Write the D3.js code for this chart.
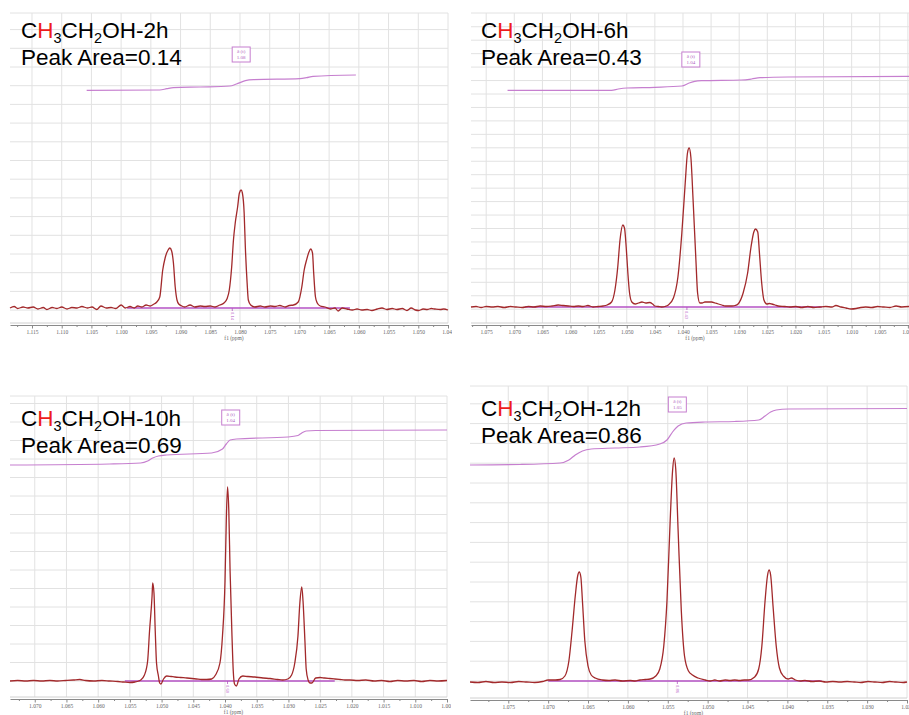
<!DOCTYPE html>
<html>
<head>
<meta charset="utf-8">
<script src="https://cdn.jsdelivr.net/npm/d3@7"></script>
<style>
  body { margin: 0; background: #fff; }
  svg { display: block; }
  .title { font-family: "Liberation Sans", Arial, sans-serif; font-size: 22.5px; fill: #000; }
  .tick text { font-family: "Liberation Serif", "DejaVu Serif", serif; font-size: 5.5px; fill: #666; }
</style>
</head>
<body>
<svg id="chart" width="909" height="715"></svg>
<script>
// ---- Sample metadata ----
const sampleHours = ["2h", "6h", "10h", "12h"];
const peakAreas = [0.14, 0.43, 0.69, 0.86];
const multipletShifts = ["1.08", "1.04", "1.04", "1.05"];
const multipletType = "δ (t)";

// ---- Axis tick labels (ppm) ----
const ticks2h = [1.115, 1.110, 1.105, 1.100, 1.095, 1.090, 1.085, 1.080, 1.075, 1.070, 1.065, 1.060, 1.055, 1.050, 1.045];
const ticks6h = [1.075, 1.070, 1.065, 1.060, 1.055, 1.050, 1.045, 1.040, 1.035, 1.030, 1.025, 1.020, 1.015, 1.010, 1.005, 1.000];
const ticks10h = [1.070, 1.065, 1.060, 1.055, 1.050, 1.045, 1.040, 1.035, 1.030, 1.025, 1.020, 1.015, 1.010, 1.005];
const ticks12h = [1.075, 1.070, 1.065, 1.060, 1.055, 1.050, 1.045, 1.040, 1.035, 1.030, 1.025];

// ---- Spectra: [chemical shift (ppm), intensity (a.u.)] ----
const spectrum2h = [
  [1.1187,0],[1.1180,1.5],[1.1174,-0.5],[1.1165,1],[1.1157,0],[1.1148,1],[1.1140,-1],[1.1131,0.5],[1.1125,-1.5],
  [1.1116,0.5],[1.1108,-0.5],[1.1100,1],[1.1091,-1],[1.1083,0.5],[1.1074,0],[1.1066,1.5],[1.1057,0],[1.1049,1],
  [1.1041,-1.5],[1.1034,2],[1.1025,0],[1.1017,0.5],[1.1009,-0.5],[1.1000,3],[1.0993,0],[1.0985,1.5],[1.0978,0],
  [1.0972,2],[1.0965,1],[1.0958,3],[1.0951,2],[1.0946,3.5],
  [1.0940,6],[1.0935,11],[1.0930,38],[1.0926,50],[1.0921,58],[1.0918,60],[1.0915,57],[1.0912,45],[1.0909,21],
  [1.0906,8],[1.0903,4],[1.0898,2],
  [1.0893,1],[1.0884,3],[1.0876,1],[1.0867,2],[1.0859,1.5],[1.0850,2],[1.0842,1],[1.0834,3],[1.0827,5],[1.0822,9],[1.0818,18],
  [1.0814,41],[1.0811,68],[1.0808,85],[1.0804,101],[1.0801,115],[1.0798,118],[1.0796,115],[1.0793,95],[1.0791,61],
  [1.0788,25],[1.0786,8],[1.0782,3],[1.0775,1],
  [1.0766,2],[1.0758,1],[1.0749,2],[1.0741,1.5],[1.0733,2.5],[1.0724,1],[1.0717,2.5],[1.0710,3],
  [1.0702,6],[1.0696,21],[1.0692,38],[1.0688,48],[1.0684,56],[1.0681,59],[1.0678,55],[1.0676,35],[1.0673,11],
  [1.0670,5],[1.0665,2],
  [1.0657,1],[1.0648,-1],[1.0640,0],[1.0635,-3],[1.0628,0],[1.0620,-1],[1.0611,-2],[1.0603,-1],[1.0595,-2],
  [1.0586,-1.5],[1.0578,-2.5],[1.0569,-1],[1.0561,0],[1.0553,-1.5],[1.0544,-0.5],[1.0536,-1.5],[1.0527,-0.5],
  [1.0519,-2.5],[1.0512,0],[1.0505,-2],[1.0499,-2.5],[1.0492,-1],[1.0485,-1.5],[1.0478,-0.5],[1.0472,-1],
  [1.0463,-1.5],[1.0457,-1],[1.0450,-2]
];
const spectrum6h = [
  [1.0777,0],[1.0768,0.5],[1.0759,-0.5],[1.0750,0.5],[1.0739,0],[1.0729,0.5],[1.0718,-0.5],[1.0707,0.5],[1.0697,0],
  [1.0686,-0.5],[1.0675,0.5],[1.0665,0],[1.0654,1],[1.0643,0.5],[1.0633,1],[1.0622,2],[1.0613,1.5],[1.0604,1],
  [1.0595,0.5],[1.0586,1],[1.0578,0.5],[1.0569,1.5],[1.0560,0],[1.0551,0.5],[1.0542,1],[1.0535,2],
  [1.0527,5],[1.0521,17],[1.0516,40],[1.0512,67],[1.0507,82],[1.0504,79],[1.0501,60],[1.0498,34],[1.0495,14],
  [1.0491,5],[1.0485,3],[1.0479,4],[1.0473,5],[1.0466,4],[1.0459,4.5],[1.0454,3],[1.0450,1],[1.0444,0.5],[1.0438,0],[1.0432,0.5],
  [1.0426,2],[1.0417,9],[1.0409,30],[1.0402,74],[1.0396,124],[1.0392,154],[1.0389,159],[1.0386,150],[1.0382,107],
  [1.0377,47],[1.0374,14],[1.0370,4],[1.0366,4],[1.0361,5],[1.0355,5],[1.0349,5],[1.0343,4],[1.0337,3],[1.0331,2],
  [1.0325,1],[1.0319,1],[1.0313,1],
  [1.0307,1.5],[1.0302,3],[1.0293,14],[1.0285,34],[1.0279,60],[1.0274,75],[1.0271,78],[1.0267,75],[1.0264,54],
  [1.0260,24],[1.0256,7],[1.0251,3],[1.0246,3.5],[1.0242,3],[1.0236,2],[1.0231,1],
  [1.0219,0.5],[1.0210,0],[1.0199,0.5],[1.0189,-0.5],[1.0178,0.5],[1.0167,-0.5],[1.0157,0],[1.0146,0.5],[1.0135,0],
  [1.0128,1.5],[1.0119,0],[1.0110,-1],[1.0101,-2],[1.0092,-1.5],[1.0084,-0.5],[1.0075,0],[1.0064,-0.5],[1.0054,0.5],
  [1.0043,0],[1.0032,-0.5],[1.0021,1],[1.0011,0],[0.9998,0.5]
];
const spectrum10h = [
  [1.0739,0],[1.0727,0.5],[1.0714,0],[1.0702,0.5],[1.0689,0],[1.0676,0.5],[1.0664,0],[1.0651,0.5],[1.0639,1],
  [1.0629,1.5],[1.0620,0.5],[1.0607,0],[1.0594,0.5],[1.0582,0],[1.0569,-0.5],[1.0560,-1],[1.0550,-1.5],[1.0542,-1],[1.0536,0],
  [1.0533,1],[1.0527,6],[1.0522,20],[1.0519,50],[1.0515,85],[1.0514,98],[1.0512,88],[1.0510,50],[1.0508,18],
  [1.0505,5],[1.0503,-2],[1.0501,-3],[1.0497,2],[1.0492,5],[1.0485,4.5],[1.0479,4],[1.0470,3.5],[1.0460,3],
  [1.0452,2.5],[1.0445,2],[1.0437,1.5],[1.0429,1.5],
  [1.0421,2],[1.0415,6],[1.0408,18],[1.0404,45],[1.0400,100],[1.0398,160],[1.0396,194],[1.0394,170],[1.0392,110],
  [1.0389,45],[1.0387,10],[1.0385,-3],[1.0382,-5],[1.0378,2],[1.0372,5],[1.0364,4.5],[1.0353,4],[1.0340,3],
  [1.0329,2.5],[1.0317,1.5],[1.0309,1],
  [1.0301,2],[1.0295,6],[1.0290,18],[1.0285,45],[1.0282,78],[1.0279,94],[1.0277,80],[1.0274,40],[1.0272,12],
  [1.0269,1],[1.0266,-2],[1.0263,-2],[1.0257,3],[1.0250,3.5],[1.0243,3],[1.0235,2.5],[1.0227,2],[1.0219,1.5],
  [1.0211,1],[1.0203,1],
  [1.0191,0.5],[1.0178,1],[1.0165,0],[1.0153,0.5],[1.0140,-0.5],[1.0128,0.5],[1.0115,0],[1.0102,0.5],[1.0090,-0.5],
  [1.0077,0.5],[1.0064,0],[1.0050,0.5]
];
const spectrum12h = [
  [1.0798,-1],[1.0788,-1.5],[1.0778,-0.5],[1.0768,-1.5],[1.0758,-1],[1.0747,-1.5],[1.0737,-0.5],[1.0727,-1],
  [1.0717,-1.5],[1.0707,-0.5],[1.0700,1],[1.0691,1],
  [1.0685,1.5],[1.0679,5],[1.0674,20],[1.0670,50],[1.0666,85],[1.0663,105],[1.0661,109],[1.0659,104],[1.0657,80],
  [1.0654,40],[1.0650,15],[1.0646,6],[1.0641,3],[1.0632,1],[1.0624,0.5],[1.0616,1],[1.0607,0],[1.0597,0.5],
  [1.0591,0],[1.0585,1],[1.0578,1.5],
  [1.0572,2],[1.0565,5],[1.0560,12],[1.0555,35],[1.0551,80],[1.0547,160],[1.0544,210],[1.0542,223],[1.0540,212],
  [1.0537,150],[1.0533,70],[1.0529,25],[1.0524,10],[1.0519,6],[1.0512,3],[1.0503,1],[1.0497,0],[1.0491,1],
  [1.0485,0],[1.0478,1],[1.0472,0.5],[1.0466,1],[1.0460,0.5],[1.0454,1],
  [1.0449,1],[1.0441,4],[1.0436,12],[1.0432,35],[1.0428,80],[1.0425,105],[1.0423,111],[1.0421,106],[1.0418,75],
  [1.0414,35],[1.0410,13],[1.0405,5],[1.0399,2],[1.0395,3],[1.0390,1],[1.0384,0],
  [1.0378,0.5],[1.0369,-0.5],[1.0360,0],[1.0352,-1],[1.0343,-0.5],[1.0334,-1],[1.0325,-0.5],[1.0316,-1],
  [1.0308,-1.5],[1.0299,-0.5],[1.0290,-1],[1.0281,-1.5],[1.0272,-0.5],[1.0264,-1],[1.0255,-1.5],[1.0250,-1]
];

// ---- Integral traces: [ppm, cumulative level] ----
const integral2h = [
  [1.1058,217.7],[1.0935,218],[1.0923,219.3],[1.0912,220.3],[1.0867,221],[1.0817,222],[1.0806,224],[1.0791,227.3],
  [1.0777,228.3],[1.0699,229.3],[1.0688,230.3],[1.0677,231.7],[1.0605,233]
];
const integral6h = [
  [1.0712,216.7],[1.0527,216.7],[1.0515,218],[1.0500,219],[1.0450,219.7],[1.0402,221],[1.0390,223.7],[1.0379,225.7],
  [1.0367,226.3],[1.0296,227],[1.0278,228],[1.0263,229.3],[1.0213,230],[0.9998,230.7]
];
const integral10h = [
  [1.0739,216],[1.0582,217],[1.0533,218],[1.0522,220],[1.0514,223],[1.0505,225],[1.0492,226],[1.0421,228],
  [1.0404,232],[1.0398,237],[1.0392,241],[1.0382,242],[1.0301,244],[1.0285,245.5],[1.0279,248],[1.0272,250],
  [1.0257,250.5],[1.0050,251]
];
const integral12h = [
  [1.0798,216],[1.0735,216.5],[1.0685,218],[1.0674,221],[1.0666,226],[1.0657,230],[1.0646,232],[1.0616,233],
  [1.0585,234],[1.0560,237],[1.0551,241],[1.0544,249],[1.0537,255],[1.0527,258],[1.0503,259],[1.0466,259.5],
  [1.0436,261],[1.0428,265],[1.0421,269],[1.0414,271],[1.0399,272],[1.0250,272.5]
];

// ---- Integration regions [from, to] (ppm) and the ppm of the integral readout ----
const integrationRanges = [[1.0990, 1.0615], [1.0681, 1.0153], [1.0558, 1.0227], [1.0700, 1.0357]];
const integralMarks = [1.0813, 1.0393, 1.0396, 1.0538];
const multipletCenters = [1.0798, 1.0386, 1.0391, 1.0538];

// ---- Panel layout ----
const layout = [
  { left: 10,  right: 448, top: 13,  axisY: 325, baseY: 308, domain: [1.1187, 1.0450], gridY0: 48.3, gridDy: 18.7, boxTop: 47,  titleX: 21,  titleY: 37.5 },
  { left: 471, right: 909, top: 13,  axisY: 325, baseY: 307, domain: [1.0777, 0.9998], gridY0: 13.3, gridDy: 13.45, boxTop: 52, titleX: 481, titleY: 37.5 },
  { left: 10,  right: 447, top: 396, axisY: 699, baseY: 681, domain: [1.0739, 1.0050], gridY0: 681, gridDy: 18.5, boxTop: 410, titleX: 21,  titleY: 426 },
  { left: 470, right: 907, top: 386, axisY: 700, baseY: 681, domain: [1.0798, 1.0250], gridY0: 681, gridDy: 19.8, boxTop: 397, titleX: 481, titleY: 416 }
];
const spectra = [spectrum2h, spectrum6h, spectrum10h, spectrum12h];
const integrals = [integral2h, integral6h, integral10h, integral12h];
const tickSets = [ticks2h, ticks6h, ticks10h, ticks12h];

const COLOR_SPEC = "#a2292b";
const COLOR_INT = "#c67fcf";
const COLOR_BASE = "#b452c4";
const COLOR_GRID = "#e2e2e2";

const svg = d3.select("#chart");
const fmt = d3.format(".3f");

layout.forEach((p, i) => {
  const g = svg.append("g");
  const x = d3.scaleLinear().domain(p.domain).range([p.left, p.right]);
  const y = d3.scaleLinear().domain([0, 250]).range([p.baseY, p.baseY - 250]);
  const ticks = tickSets[i];
  const gridBottom = p.axisY - 2;

  // clip for the panel
  const clipId = "clip" + i;
  svg.append("clipPath").attr("id", clipId)
    .append("rect").attr("x", p.left - 6).attr("y", p.top - 2)
    .attr("width", p.right - p.left + 10).attr("height", p.axisY - p.top + 24);
  g.attr("clip-path", `url(#${clipId})`);

  // grid
  const gridYs = [p.top];
  for (let gy = p.gridY0; gy > p.top + 2; gy -= p.gridDy) gridYs.push(gy);
  for (let gy = p.gridY0 + p.gridDy; gy < gridBottom - 3; gy += p.gridDy) gridYs.push(gy);
  g.append("g").selectAll("line").data(gridYs).join("line")
    .attr("x1", p.left).attr("x2", p.right)
    .attr("y1", d => d).attr("y2", d => d)
    .attr("stroke", COLOR_GRID).attr("stroke-width", 1);
  g.append("g").selectAll("line").data(ticks).join("line")
    .attr("x1", d => x(d)).attr("x2", d => x(d))
    .attr("y1", p.top).attr("y2", gridBottom)
    .attr("stroke", COLOR_GRID).attr("stroke-width", 1);
  g.append("line").attr("x1", p.left).attr("x2", p.right)
    .attr("y1", gridBottom).attr("y2", gridBottom).attr("stroke", "#d0d0d0");

  // x axis: major ticks with labels, minor ticks in between
  const minor = ticks.map(t => t - 0.0025).filter(t => t < p.domain[0] && t > p.domain[1]);
  const extra = ticks[0] + 0.0025;
  if (extra < p.domain[0]) minor.push(extra);
  const axisMinor = g.append("g").attr("transform", `translate(0,${p.axisY})`)
    .call(d3.axisBottom(x).tickValues(minor).tickSize(2).tickSizeOuter(0).tickFormat(""));
  axisMinor.select(".domain").remove();
  axisMinor.selectAll("line").attr("stroke", "#888");
  const axisMajor = g.append("g").attr("transform", `translate(0,${p.axisY})`)
    .call(d3.axisBottom(x).tickValues(ticks).tickSize(3.5).tickSizeOuter(0).tickPadding(2).tickFormat(fmt));
  axisMajor.select(".domain").attr("stroke", "#8a8a8a").attr("stroke-width", 1);
  axisMajor.selectAll("line").attr("stroke", "#888");

  g.append("text")
    .attr("x", (p.left + p.right) / 2 + 5).attr("y", p.axisY + 15)
    .attr("text-anchor", "middle")
    .style("font-family", "'Liberation Serif', serif").style("font-size", "5.5px").attr("fill", "#666")
    .text("f1 (ppm)");

  // integration region baseline
  const r = integrationRanges[i];
  g.append("line")
    .attr("x1", x(r[0])).attr("x2", x(r[1]))
    .attr("y1", y(0)).attr("y2", y(0))
    .attr("stroke", COLOR_BASE).attr("stroke-width", 1.3);

  // integral readout below baseline
  const mx = x(integralMarks[i]);
  g.append("line").attr("x1", mx).attr("x2", mx).attr("y1", y(0)).attr("y2", y(0) + 3)
    .attr("stroke", COLOR_BASE).attr("stroke-width", 0.8);
  g.append("text")
    .attr("transform", `translate(${mx - 1.5},${y(0) + 4}) rotate(90)`)
    .style("font-family", "'Liberation Serif', serif").style("font-size", "4.5px").attr("fill", COLOR_BASE)
    .text(peakAreas[i].toFixed(2));

  // integral trace
  g.append("path").datum(integrals[i])
    .attr("fill", "none").attr("stroke", COLOR_INT).attr("stroke-width", 1.2)
    .attr("d", d3.line().x(d => x(d[0])).y(d => y(d[1])).curve(d3.curveMonotoneX));

  // spectrum
  g.append("path").datum(spectra[i])
    .attr("fill", "none").attr("stroke", COLOR_SPEC).attr("stroke-width", 1.3)
    .attr("stroke-linejoin", "round")
    .attr("d", d3.line().x(d => x(d[0])).y(d => y(d[1])).curve(d3.curveMonotoneX));

  // multiplet annotation box
  const bx = x(multipletCenters[i]);
  const box = g.append("g");
  box.append("rect").attr("x", bx - 9).attr("y", p.boxTop).attr("width", 18).attr("height", 15)
    .attr("fill", "#fff").attr("stroke", COLOR_INT).attr("stroke-width", 1);
  box.selectAll("text").data([multipletType, multipletShifts[i]]).join("text")
    .attr("x", bx).attr("y", (d, k) => p.boxTop + 6 + k * 5.8)
    .attr("text-anchor", "middle")
    .style("font-family", "'Liberation Serif', serif").style("font-size", "5px").attr("fill", "#b060c0")
    .text(d => d);

  // title
  const title = svg.append("text").attr("class", "title").attr("x", p.titleX).attr("y", p.titleY);
  title.append("tspan").text("C");
  title.append("tspan").attr("fill", "#ee1c1c").text("H");
  title.append("tspan").attr("dy", 5).style("font-size", "14.5px").text("3");
  title.append("tspan").attr("dy", -5).text("CH");
  title.append("tspan").attr("dy", 5).style("font-size", "14.5px").text("2");
  title.append("tspan").attr("dy", -5).text("OH-" + sampleHours[i]);
  svg.append("text").attr("class", "title").attr("x", p.titleX).attr("y", p.titleY + 27)
    .text("Peak Area=" + peakAreas[i].toFixed(2));
});
</script>
</body>
</html>
